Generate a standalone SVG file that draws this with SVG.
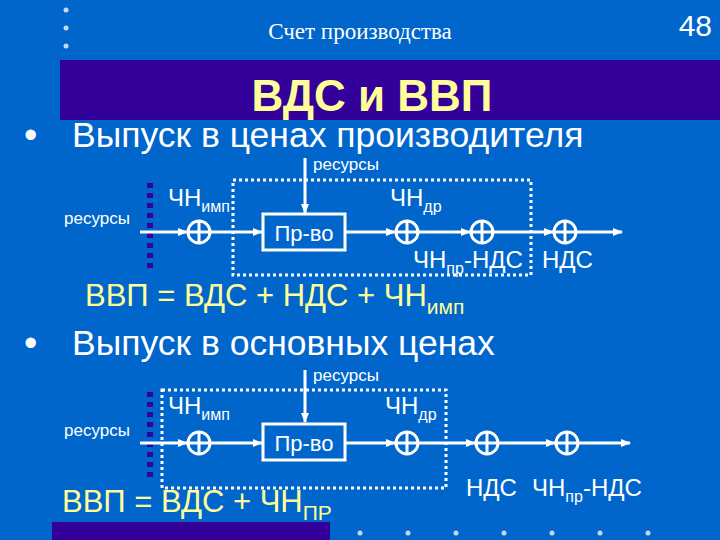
<svg xmlns="http://www.w3.org/2000/svg" width="720" height="540" viewBox="0 0 720 540">
<defs>
<marker id="ar" markerWidth="10" markerHeight="8" refX="9" refY="4" orient="auto" markerUnits="userSpaceOnUse"><path d="M0,0 L10,4 L0,8 Z" fill="#fff"/></marker>
<symbol id="sum" overflow="visible"><circle r="11" fill="none" stroke="#fff" stroke-width="3"/><path d="M0,-11 V11 M-11,0 H11" stroke="#fff" stroke-width="3"/></symbol>
</defs>
<style>
.t{font-family:"Liberation Sans",Arial,sans-serif;fill:#fff}
.w{stroke:#fff;stroke-width:3;fill:none}
.d{stroke:#fff;stroke-width:3;fill:none;stroke-dasharray:3 3}
.p{stroke:#330099;stroke-width:6;stroke-dasharray:5 5}
.y{font-family:"Liberation Sans",Arial,sans-serif;fill:#ffff99}
</style>
<rect width="720" height="540" fill="#0066cc"/>
<g fill="#c8d8f0"><circle cx="66" cy="10" r="2.5"/><circle cx="66" cy="28" r="2.5"/><circle cx="66" cy="46" r="2.5"/>
<circle cx="360" cy="533" r="2.5"/><circle cx="408" cy="533" r="2.5"/><circle cx="456" cy="533" r="2.5"/><circle cx="504" cy="533" r="2.5"/><circle cx="552" cy="533" r="2.5"/><circle cx="600" cy="533" r="2.5"/><circle cx="648" cy="533" r="2.5"/></g>
<text x="360" y="39" text-anchor="middle" font-family="Liberation Serif,serif" font-size="23" fill="#fff">Счет производства</text>
<text x="712" y="36" text-anchor="end" class="t" font-size="30">48</text>
<rect x="60" y="60" width="660" height="60" fill="#330099"/>
<text x="372" y="111" text-anchor="middle" class="y" font-size="44" font-weight="bold">ВДС и ВВП</text>
<text x="24" y="148" class="t" font-size="38">•</text><text x="72" y="147" class="t" font-size="35.5">Выпуск в ценах производителя</text>
<text x="24" y="356" class="t" font-size="38">•</text><text x="72" y="355" class="t" font-size="35.5">Выпуск в основных ценах</text>
<text x="85" y="306" class="y" font-size="31">ВВП = ВДС + НДС + ЧН<tspan font-size="21" dy="8">имп</tspan></text>
<text x="62" y="512" class="y" font-size="31">ВВП = ВДС + ЧН<tspan font-size="21" dy="8">ПР</tspan></text>
<rect x="52" y="522" width="278" height="18" fill="#330099"/>
<g id="connectors">
<line x1="150" y1="183" x2="150" y2="270" class="p"/>
<rect x="233" y="180" width="298" height="95" class="d"/>
<line x1="140" y1="232" x2="187" y2="232" class="w" marker-end="url(#ar)"/>
<line x1="211" y1="232" x2="262" y2="232" class="w" marker-end="url(#ar)"/>
<line x1="305" y1="158" x2="305" y2="213" class="w" marker-end="url(#ar)"/>
<line x1="346" y1="232" x2="395" y2="232" class="w" marker-end="url(#ar)"/>
<line x1="419" y1="232" x2="470" y2="232" class="w" marker-end="url(#ar)"/>
<line x1="494" y1="232" x2="553" y2="232" class="w" marker-end="url(#ar)"/>
<line x1="577" y1="232" x2="622" y2="232" class="w" marker-end="url(#ar)"/>
<line x1="150" y1="392" x2="150" y2="480" class="p"/>
<rect x="162" y="390" width="284" height="98" class="d"/>
<line x1="140" y1="443" x2="187" y2="443" class="w" marker-end="url(#ar)"/>
<line x1="211" y1="443" x2="262" y2="443" class="w" marker-end="url(#ar)"/>
<line x1="305" y1="370" x2="305" y2="422" class="w" marker-end="url(#ar)"/>
<line x1="346" y1="443" x2="395" y2="443" class="w" marker-end="url(#ar)"/>
<line x1="419" y1="443" x2="475" y2="443" class="w" marker-end="url(#ar)"/>
<line x1="499" y1="443" x2="555" y2="443" class="w" marker-end="url(#ar)"/>
<line x1="579" y1="443" x2="630" y2="443" class="w" marker-end="url(#ar)"/>
</g>
<g id="n1"><use href="#sum" x="199" y="232"/></g>
<g id="n2"><rect x="263" y="214" width="82" height="36" class="w"/><text x="304" y="241" text-anchor="middle" class="t" font-size="22">Пр-во</text></g>
<g id="n3"><use href="#sum" x="407" y="232"/></g>
<g id="n4"><use href="#sum" x="482" y="232"/></g>
<g id="n5"><use href="#sum" x="565" y="232"/></g>
<g id="n6"><use href="#sum" x="199" y="443"/></g>
<g id="n7"><rect x="263" y="424" width="82" height="36" class="w"/><text x="304" y="451" text-anchor="middle" class="t" font-size="22">Пр-во</text></g>
<g id="n8"><use href="#sum" x="407" y="443"/></g>
<g id="n9"><use href="#sum" x="487" y="443"/></g>
<g id="n10"><use href="#sum" x="567" y="443"/></g>
<g class="t" font-size="17">
<text x="313" y="170">ресурсы</text>
<text x="64" y="224">ресурсы</text>
<text x="313" y="381">ресурсы</text>
<text x="64" y="436">ресурсы</text>
</g>
<g class="t" font-size="24">
<text x="168" y="206">ЧН<tspan font-size="16" dy="6">имп</tspan></text>
<text x="390" y="206">ЧН<tspan font-size="16" dy="6">др</tspan></text>
<text x="413" y="268">ЧН<tspan font-size="16" dy="6">пр</tspan><tspan dy="-6">-НДС</tspan></text>
<text x="542" y="268">НДС</text>
<text x="168" y="414">ЧН<tspan font-size="16" dy="6">имп</tspan></text>
<text x="385" y="414">ЧН<tspan font-size="16" dy="6">др</tspan></text>
<text x="466" y="496">НДС</text>
<text x="532" y="496">ЧН<tspan font-size="16" dy="6">пр</tspan><tspan dy="-6">-НДС</tspan></text>
</g>
</svg>
